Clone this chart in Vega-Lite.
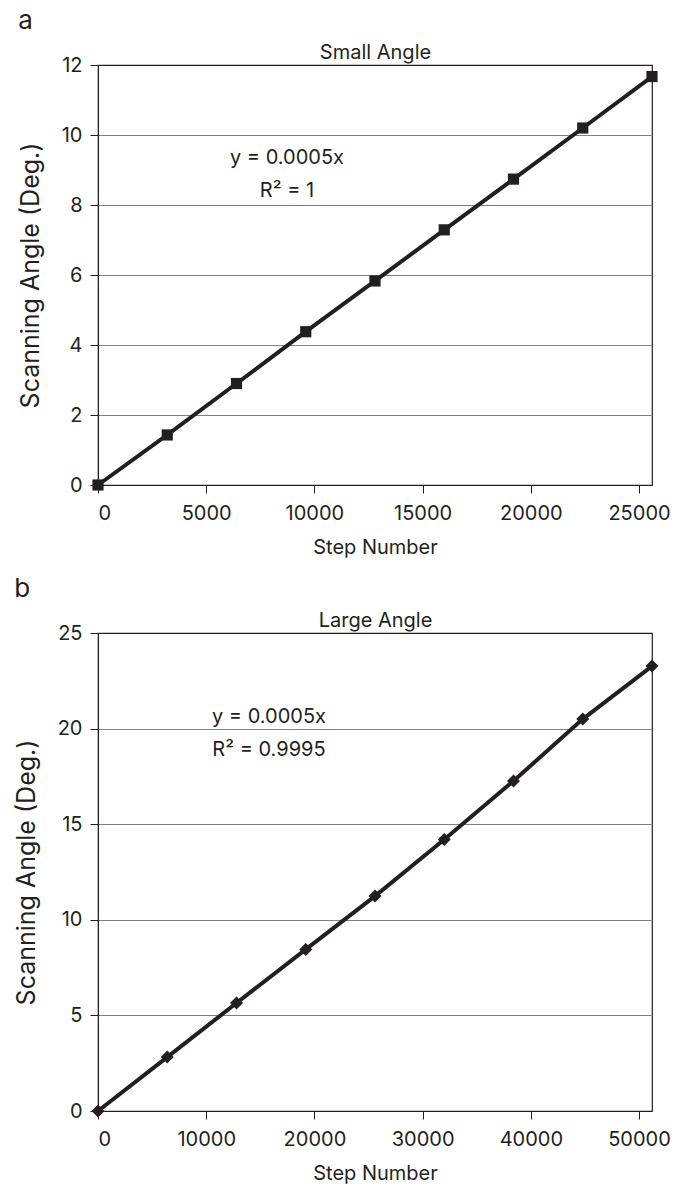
{
  "$schema": "https://vega.github.io/schema/vega-lite/v6.json",
  "padding": {"left": 13, "top": 7, "right": 5, "bottom": 2},
  "background": "white",
  "spacing": 17,
  "config": {
    "font": "Inter",
    "view": {"stroke": "#231f20", "strokeWidth": 1.2},
    "axis": {
      "labelFontSize": 20,
      "titleFontSize": 20,
      "titleFontWeight": "normal",
      "labelColor": "#231f20",
      "titleColor": "#231f20",
      "domainColor": "#231f20",
      "tickColor": "#231f20",
      "tickSize": 8,
      "gridColor": "#808080",
      "labelPadding": 10
    },
    "title": {"fontSize": 26, "fontWeight": "normal", "color": "#231f20", "offset": 8, "anchor": "start", "frame": "bounds"}
  },
  "vconcat": [
    {
      "width": 554,
      "height": 420,
      "title": "a",
      "resolve": {"axis": {"x": "independent"}},
      "layer": [
        {
          "data": {"values": [
            {"step": 0, "angle": 0},
            {"step": 3200, "angle": 1.43},
            {"step": 6400, "angle": 2.9},
            {"step": 9600, "angle": 4.38},
            {"step": 12800, "angle": 5.83},
            {"step": 16000, "angle": 7.29},
            {"step": 19200, "angle": 8.74},
            {"step": 22400, "angle": 10.2},
            {"step": 25600, "angle": 11.67}
          ]},
          "mark": {"type": "line", "color": "#231f20", "strokeWidth": 4, "point": {"shape": "square", "size": 125, "filled": true, "color": "#231f20", "opacity": 1}},
          "encoding": {
            "x": {"field": "step", "type": "quantitative", "scale": {"domain": [0, 25600], "nice": false, "zero": false},
              "axis": {"orient": "bottom", "values": [0, 5000, 10000, 15000, 20000, 25000], "grid": false, "title": "Step Number", "titlePadding": 14, "format": "d"}},
            "y": {"field": "angle", "type": "quantitative", "scale": {"domain": [0, 12], "nice": false},
              "axis": {"values": [0, 2, 4, 6, 8, 10, 12], "grid": true, "title": "Scanning Angle (Deg.)", "titleFontSize": 25, "titlePadding": 18, "labelPadding": 8}}
          }
        },
        {
          "data": {"values": [
            {"step": 8733, "angle": 9.34, "label": "y = 0.0005x"},
            {"step": 8733, "angle": 8.4, "label": "R² = 1"}
          ]},
          "mark": {"type": "text", "color": "#231f20", "baseline": "middle", "align": "center", "fontSize": 20},
          "encoding": {
            "x": {"field": "step", "type": "quantitative",
              "axis": {"orient": "top", "title": "Small Angle", "labels": false, "ticks": false, "grid": false, "domain": true, "titlePadding": 3}},
            "y": {"field": "angle", "type": "quantitative"},
            "text": {"field": "label"}
          }
        }
      ]
    },
    {
      "width": 554,
      "height": 478,
      "title": "b",
      "resolve": {"axis": {"x": "independent"}},
      "layer": [
        {
          "data": {"values": [
            {"step": 0, "angle": 0},
            {"step": 6400, "angle": 2.82},
            {"step": 12800, "angle": 5.65},
            {"step": 19200, "angle": 8.45},
            {"step": 25600, "angle": 11.24},
            {"step": 32000, "angle": 14.2},
            {"step": 38400, "angle": 17.26},
            {"step": 44800, "angle": 20.5},
            {"step": 51200, "angle": 23.27}
          ]},
          "mark": {"type": "line", "color": "#231f20", "strokeWidth": 4, "point": {"shape": "diamond", "size": 170, "filled": true, "color": "#231f20", "opacity": 1}},
          "encoding": {
            "x": {"field": "step", "type": "quantitative", "scale": {"domain": [0, 51200], "nice": false, "zero": false},
              "axis": {"orient": "bottom", "values": [0, 10000, 20000, 30000, 40000, 50000], "grid": false, "title": "Step Number", "titlePadding": 14, "format": "d"}},
            "y": {"field": "angle", "type": "quantitative", "scale": {"domain": [0, 25], "nice": false},
              "axis": {"values": [0, 5, 10, 15, 20, 25], "grid": true, "title": "Scanning Angle (Deg.)", "titleFontSize": 25, "titlePadding": 18, "labelPadding": 8}}
          }
        },
        {
          "data": {"values": [
            {"step": 15800, "angle": 20.6, "label": "y = 0.0005x"},
            {"step": 15800, "angle": 18.88, "label": "R² = 0.9995"}
          ]},
          "mark": {"type": "text", "color": "#231f20", "baseline": "middle", "align": "center", "fontSize": 20},
          "encoding": {
            "x": {"field": "step", "type": "quantitative",
              "axis": {"orient": "top", "title": "Large Angle", "labels": false, "ticks": false, "grid": false, "domain": true, "titlePadding": 3}},
            "y": {"field": "angle", "type": "quantitative"},
            "text": {"field": "label"}
          }
        }
      ]
    }
  ]
}
